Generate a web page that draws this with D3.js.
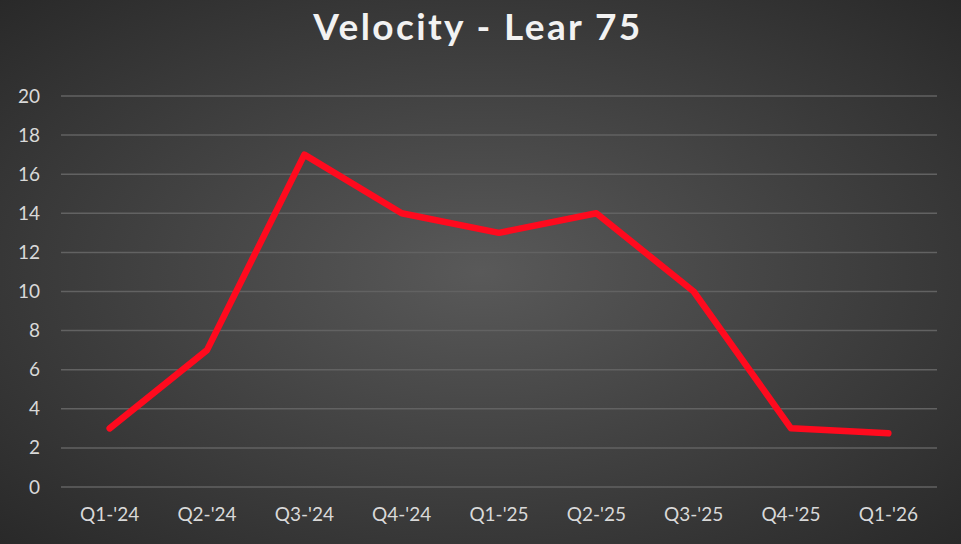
<!DOCTYPE html>
<html>
<head>
<meta charset="utf-8">
<script src="https://cdn.jsdelivr.net/npm/d3@7"></script>
<style>
  html, body { margin: 0; padding: 0; background: #333; }
  svg { display: block; }
  .tick text { font-family: Lato, "Open Sans", sans-serif; font-size: 19px; fill: #d9d9d9; }
</style>
</head>
<body>
<script>
// chart data
const quarters = ["Q1-'24", "Q2-'24", "Q3-'24", "Q4-'24", "Q1-'25", "Q2-'25", "Q3-'25", "Q4-'25", "Q1-'26"];
const velocity = [3, 7, 17, 14, 13, 14, 10, 3, 2.75];
const yTicks = [0, 2, 4, 6, 8, 10, 12, 14, 16, 18, 20];

const w = 961, h = 544;
const padLeft = 61, padRight = 937, padTop = 96, padBottom = 487;

const svg = d3.select('body').append('svg')
  .attr('width', w)
  .attr('height', h);

// background gradient
const defs = svg.append('defs');
const grad = defs.append('radialGradient')
  .attr('id', 'bg')
  .attr('cx', '50%').attr('cy', '50%').attr('r', '75%');
grad.append('stop').attr('offset', '0%').attr('stop-color', '#595959');
grad.append('stop').attr('offset', '100%').attr('stop-color', '#262626');

svg.append('rect')
  .attr('width', w).attr('height', h)
  .attr('fill', 'url(#bg)');

const xScale = d3.scaleBand()
  .domain(quarters)
  .range([padLeft, padRight]);

const yScale = d3.scaleLinear()
  .domain([0, 20])
  .range([padBottom, padTop]);

// gridlines
svg.append('g')
  .selectAll('line')
  .data(yTicks)
  .enter()
  .append('line')
  .attr('x1', padLeft)
  .attr('x2', padRight)
  .attr('y1', d => yScale(d))
  .attr('y2', d => yScale(d))
  .attr('stroke', '#626262')
  .attr('stroke-width', 1.5);

const yAxis = d3.axisLeft(yScale).tickValues(yTicks).tickSize(0).tickPadding(21);
svg.append('g')
  .attr('transform', 'translate(' + padLeft + ',0)')
  .call(yAxis)
  .call(g => g.select('.domain').remove());

const xAxis = d3.axisBottom(xScale).tickSize(0).tickPadding(21);
svg.append('g')
  .attr('transform', 'translate(0,' + padBottom + ')')
  .call(xAxis)
  .call(g => g.select('.domain').remove());

// line
const line = d3.line()
  .x((d, i) => xScale(quarters[i]) + xScale.bandwidth() / 2)
  .y(d => yScale(d));

svg.append('path')
  .datum(velocity)
  .attr('d', line)
  .attr('fill', 'none')
  .attr('stroke', '#ff0a1e')
  .attr('stroke-width', 6.5)
  .attr('stroke-linejoin', 'round')
  .attr('stroke-linecap', 'round');

// title
svg.append('text')
  .attr('x', 478)
  .attr('y', 40)
  .attr('text-anchor', 'middle')
  .attr('font-family', 'Lato, "Open Sans", sans-serif')
  .attr('font-weight', 'bold')
  .attr('font-size', 37)
  .attr('letter-spacing', '2.4px')
  .attr('fill', '#f2f2f2')
  .text('Velocity - Lear 75');
</script>
</body>
</html>
